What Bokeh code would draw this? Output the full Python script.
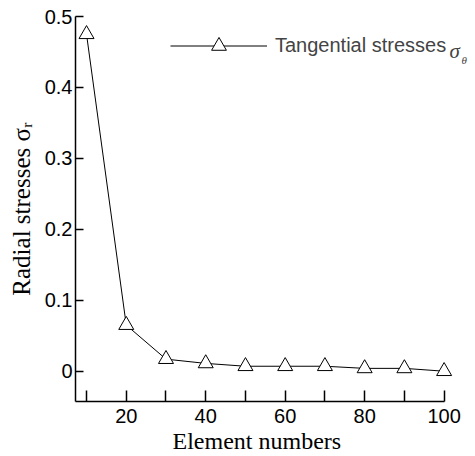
from bokeh.plotting import figure
from bokeh.models import Range1d, FixedTicker, Legend, LegendItem, Label, Title
from bokeh.embed import file_html
from bokeh.resources import INLINE

# ---- data ----
elements = [10, 20, 30, 40, 50, 60, 70, 80, 90, 100]
stress = [0.475, 0.065, 0.017, 0.011, 0.007, 0.007, 0.007, 0.004, 0.004, 0.0]

x_ticks = [10, 20, 30, 40, 50, 60, 70, 80, 90, 100]
x_tick_labels = ["", "20", "", "40", "", "60", "", "80", "", "100"]
y_ticks = [0.0, 0.1, 0.2, 0.3, 0.4, 0.5]
y_tick_labels = ["0", "0.1", "0.2", "0.3", "0.4", "0.5"]

series_label = "Tangential stresses"
series_symbol = "σ"
series_sub = "θ"
x_title = "Element numbers"
y_title = "Radial stresses σᵣ"

X0, X1 = 7.224, 106.64   # plotting area runs a little past the axis end (100)
Y0, Y1 = -0.0427, 0.5

p = figure(width=474, height=455, output_backend="svg", toolbar_location=None,
           x_range=Range1d(X0, X1), y_range=Range1d(Y0, Y1),
           min_border_left=75, min_border_right=4, min_border_top=16, min_border_bottom=54)
p.outline_line_color = None
p.grid.visible = False
p.background_fill_color = "white"

SANS = "Liberation Sans"
SERIF = "Liberation Serif"

xa = p.xaxis[0]
xa.bounds = (X0, 100)
xa.ticker = FixedTicker(ticks=x_ticks)
xa.major_label_overrides = {t: l for t, l in zip(x_ticks, x_tick_labels)}
xa.major_tick_in = 11
xa.major_tick_out = 0
xa.minor_tick_line_color = None
xa.axis_line_width = 1.5
xa.major_tick_line_width = 1.5
xa.major_label_text_font = SANS
xa.major_label_text_font_size = "20px"
xa.major_label_text_color = "black"
xa.major_label_standoff = 7

# x title centred under the axis line (which ends at 100), not under the wider plot area
p.add_layout(Title(text=x_title, text_font=SERIF, text_font_size="24px",
                   text_font_style="normal", text_color="black",
                   align="left", offset=97, standoff=0), "below")

ya = p.yaxis[0]
ya.ticker = FixedTicker(ticks=y_ticks)
ya.major_label_overrides = {t: l for t, l in zip(y_ticks, y_tick_labels)}
ya.major_tick_in = 8
ya.major_tick_out = 0
ya.minor_tick_line_color = None
ya.axis_line_width = 1.5
ya.major_tick_line_width = 1.5
ya.major_label_text_font = SANS
ya.major_label_text_font_size = "20px"
ya.major_label_text_color = "black"
ya.major_label_standoff = 3
ya.axis_label = y_title
ya.axis_label_text_font = SERIF
ya.axis_label_text_font_size = "25px"
ya.axis_label_text_font_style = "normal"
ya.axis_label_standoff = 7
ya.axis_label_text_color = "black"

r_line = p.line(elements, stress, line_color="black", line_width=1)
r_pts = p.scatter(elements, stress, marker="triangle", size=15,
                  fill_color="white", line_color="black", line_width=1)

legend = Legend(items=[LegendItem(label=series_label, renderers=[r_line, r_pts])],
                location=(95, 337), border_line_color=None, background_fill_alpha=0,
                padding=0, margin=0, spacing=0, glyph_width=97, glyph_height=37,
                label_height=37, label_standoff=8, label_text_font=SANS,
                label_text_font_size="20px")
p.add_layout(legend)

p.add_layout(Label(x=101.34, y=0.452, text=series_symbol, text_font=SERIF,
                   text_font_style="italic", text_font_size="21px",
                   text_baseline="alphabetic"))
p.add_layout(Label(x=104.37, y=0.438, text=series_sub, text_font=SERIF,
                   text_font_style="italic", text_font_size="11px",
                   text_baseline="alphabetic"))

open("out.html", "w").write(file_html(p, INLINE))
